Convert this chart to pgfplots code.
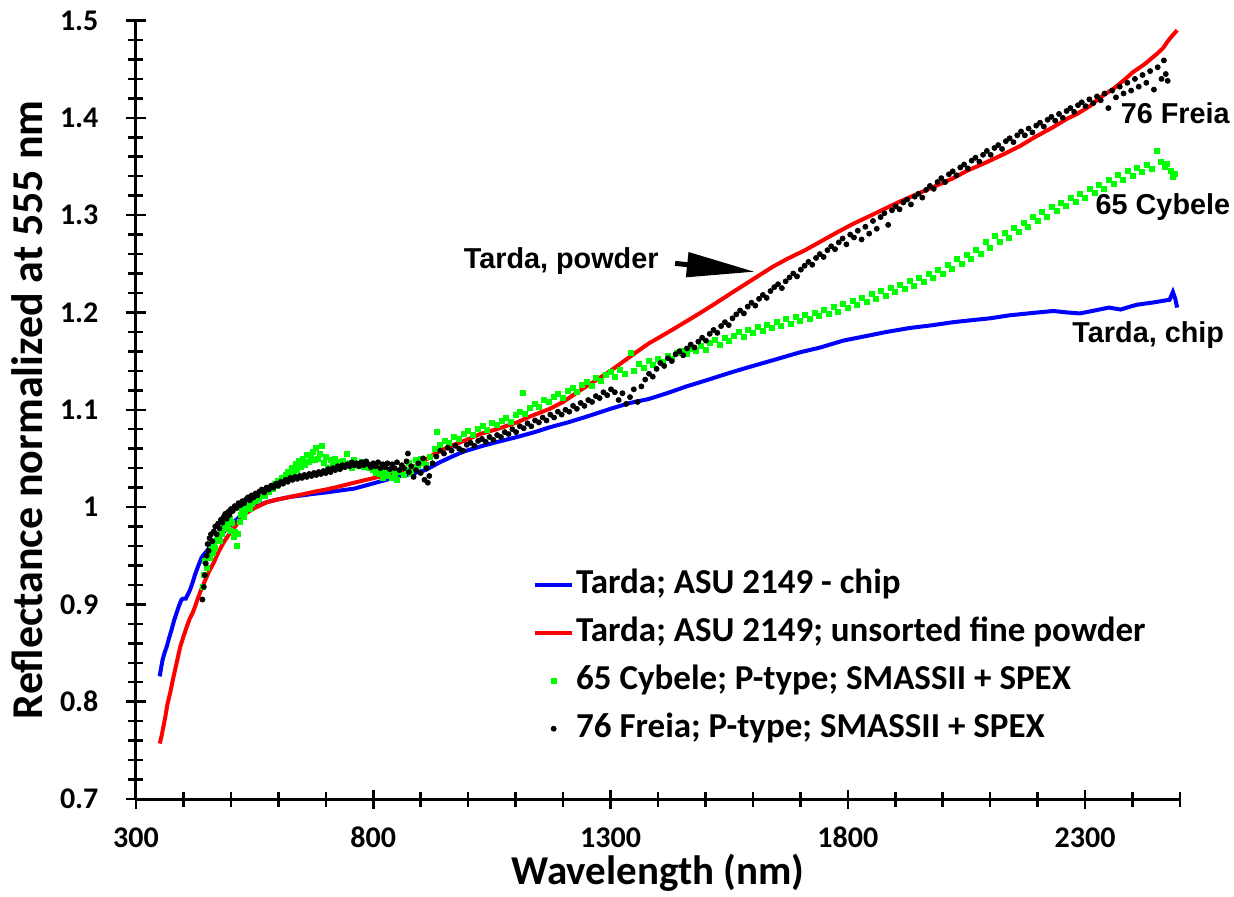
\documentclass[border=0pt]{standalone}
\usepackage{fontspec}
\setmainfont{Carlito}
\newfontfamily\arialf{Liberation Sans}
\usepackage{pgfplots}
\pgfplotsset{compat=1.18}
\usetikzlibrary{arrows.meta}
\definecolor{xblue}{RGB}{0,0,255}
\definecolor{xred}{RGB}{255,0,0}
\definecolor{xgreen}{RGB}{0,255,0}
\begin{document}
\begin{tikzpicture}
\begin{axis}[
  scale only axis, width=522pt, height=389.25pt,
  xmin=300, xmax=2500, ymin=0.7, ymax=1.5,
  axis x line*=bottom, axis y line*=left,
  axis line style={-, line width=1.5pt},
  xtick={300,800,1300,1800,2300},
  minor xtick={400,500,600,700,900,1000,1100,1200,1400,1500,1600,1700,1900,2000,2100,2200,2400,2500},
  ytick={0.7,0.8,0.9,1,1.1,1.2,1.3,1.4,1.5},
  minor ytick={0.72,0.74,0.76,0.78,0.82,0.84,0.86,0.88,0.92,0.94,0.96,0.98,1.02,1.04,1.06,1.08,1.12,1.14,1.16,1.18,1.22,1.24,1.26,1.28,1.32,1.34,1.36,1.38,1.42,1.44,1.46,1.48},
  tick align=center,
  major tick length=9.5pt, minor tick length=7.5pt,
  tick style={black, line width=1.25pt},
  /pgf/number format/assume math mode=true,
  /pgf/number format/1000 sep={},
  tick label style={font=\fontsize{15}{15}\selectfont\bfseries},
  xticklabel style={anchor=base, yshift=-19.5pt},
  yticklabel style={anchor=east, xshift=-10.5pt},
  xlabel={Wavelength (nm)},
  ylabel={Reflectance normalized at 555 nm},
  xlabel style={font=\fontsize{20.5}{24}\selectfont\bfseries, inner sep=0pt, at={(axis description cs:0.5,-0.1104)}, anchor=base},
  ylabel style={font=\fontsize{22}{24}\selectfont\bfseries, at={(axis description cs:-0.104,0.5)}, anchor=center},
  clip=false,
  legend cell align=left,
  legend style={at={(axis description cs:0.3743,0.304)}, anchor=north west, draw=none, fill=none,
    font=\fontsize{17.5}{20}\selectfont\bfseries, row sep=6pt,
    nodes={inner sep=1pt, text height=12.5pt, text depth=3.5pt}},
]
\addplot[xblue, line width=2pt, legend image code/.code={\draw[xblue, line width=2pt] (0pt,0pt) -- (18.5pt,0pt);}] coordinates {
(350,0.826)(353,0.835)(356,0.843)(360,0.850)(365,0.857)(370,0.866)(375,0.874)(380,0.883)(386,0.892)(391,0.899)(396,0.905)(400,0.906)(405,0.906)(410,0.911)(414,0.915)(419,0.922)(424,0.930)(430,0.938)(438,0.948)(446,0.953)(456,0.959)(466,0.965)(477,0.970)(490,0.977)(505,0.984)(518,0.990)(533,0.995)(550,1.000)(575,1.005)(600,1.008)(625,1.0105)(650,1.012)(673,1.0135)(700,1.015)(730,1.017)(760,1.019)(790,1.023)(820,1.027)(850,1.031)(880,1.034)(910,1.038)(940,1.046)(962,1.051)(990,1.057)(1031,1.063)(1070,1.068)(1103,1.072)(1140,1.077)(1172,1.082)(1210,1.087)(1250,1.093)(1300,1.101)(1341,1.107)(1380,1.111)(1419,1.117)(1460,1.124)(1500,1.130)(1558,1.139)(1600,1.145)(1650,1.152)(1699,1.159)(1742,1.164)(1790,1.171)(1841,1.176)(1882,1.180)(1930,1.184)(1980,1.187)(2022,1.190)(2060,1.192)(2100,1.194)(2140,1.197)(2190,1.1995)(2233,1.2015)(2262,1.200)(2289,1.199)(2320,1.202)(2350,1.205)(2375,1.203)(2395,1.206)(2410,1.208)(2440,1.210)(2465,1.212)(2478,1.213)(2485,1.221)(2490,1.214)(2494,1.205)
};
\addlegendentry{Tarda; ASU 2149 - chip}
\addplot[xred, line width=2pt, legend image code/.code={\draw[xred, line width=2pt] (0pt,0pt) -- (18.5pt,0pt);}] coordinates {
(350,0.757)(354,0.765)(358,0.775)(362,0.785)(366,0.797)(372,0.809)(377,0.821)(382,0.832)(388,0.845)(393,0.856)(400,0.867)(407,0.877)(413,0.885)(420,0.892)(426,0.900)(431,0.907)(438,0.916)(446,0.925)(454,0.934)(463,0.942)(473,0.953)(484,0.963)(496,0.972)(509,0.980)(521,0.988)(533,0.994)(550,0.999)(576,1.005)(600,1.008)(625,1.0105)(650,1.013)(673,1.0155)(700,1.018)(723,1.0205)(751,1.024)(785,1.028)(820,1.032)(850,1.036)(880,1.040)(900,1.045)(920,1.052)(941,1.058)(970,1.064)(996,1.069)(1025,1.075)(1060,1.080)(1103,1.087)(1130,1.093)(1172,1.101)(1200,1.108)(1236,1.120)(1278,1.133)(1300,1.140)(1348,1.157)(1380,1.168)(1419,1.179)(1450,1.188)(1489,1.1995)(1520,1.209)(1558,1.221)(1600,1.234)(1642,1.247)(1672,1.255)(1710,1.264)(1742,1.2727)(1780,1.283)(1811,1.291)(1850,1.300)(1882,1.3075)(1910,1.314)(1952,1.323)(1990,1.331)(2022,1.338)(2051,1.3455)(2093,1.3545)(2130,1.363)(2163,1.371)(2190,1.379)(2233,1.3905)(2262,1.399)(2283,1.404)(2310,1.412)(2332,1.421)(2360,1.430)(2385,1.440)(2401,1.447)(2425,1.455)(2452,1.466)(2465,1.472)(2473,1.478)(2483,1.484)(2494,1.490)
};
\addlegendentry{Tarda; ASU 2149; unsorted fine powder}
\addplot[only marks, mark=square*, mark size=1.25pt, xgreen, legend image code/.code={\draw[xgreen, mark=square*, mark size=1.25pt] plot coordinates {(9.25pt,0pt)};}] coordinates {
(440,0.918)(443,0.930)(446,0.945)(449,0.938)(452,0.950)(455,0.948)(458,0.957)(461,0.953)(464,0.962)(467,0.958)(470,0.966)(473,0.970)(476,0.965)(479,0.975)(482,0.972)(485,0.979)(488,0.985)(491,0.978)(494,0.982)(497,0.988)(500,0.976)(503,0.984)(506,0.969)(509,0.975)(512,0.960)(515,0.972)(518,0.985)(521,0.992)(524,0.998)(527,0.990)(530,0.995)(533,1.000)(536,1.004)(540,0.998)(544,1.003)(548,1.007)(552,1.006)(556,1.010)(560,1.008)(564,1.012)(568,1.015)(572,1.011)(576,1.018)(580,1.016)(584,1.021)(588,1.019)(592,1.024)(596,1.022)(600,1.027)(604,1.025)(608,1.030)(612,1.028)(616,1.033)(620,1.036)(624,1.031)(628,1.040)(632,1.035)(636,1.044)(640,1.038)(644,1.047)(648,1.041)(652,1.050)(656,1.043)(660,1.054)(664,1.046)(668,1.052)(672,1.057)(676,1.048)(680,1.061)(684,1.050)(688,1.055)(692,1.063)(696,1.045)(700,1.052)(705,1.040)(710,1.048)(715,1.044)(720,1.050)(725,1.046)(730,1.041)(735,1.047)(740,1.043)(745,1.055)(750,1.045)(755,1.040)(760,1.048)(765,1.044)(770,1.042)(775,1.046)(780,1.041)(785,1.045)(790,1.040)(795,1.043)(800,1.038)(805,1.035)(810,1.040)(815,1.034)(820,1.030)(825,1.036)(830,1.032)(835,1.038)(840,1.030)(845,1.034)(850,1.028)(855,1.036)(860,1.040)(865,1.033)(870,1.038)(875,1.045)(880,1.035)(885,1.040)(890,1.048)(895,1.042)(900,1.050)(905,1.045)(910,1.043)
(920,1.052)(930,1.060)(934,1.077)(940,1.064)(950,1.068)(960,1.066)(970,1.072)(980,1.070)(990,1.075)(1000,1.078)(1010,1.074)(1020,1.080)(1030,1.083)(1040,1.079)(1050,1.086)(1060,1.084)(1070,1.089)(1080,1.092)(1090,1.088)(1100,1.095)(1110,1.098)(1116,1.117)(1120,1.096)(1130,1.102)(1140,1.106)(1150,1.103)(1160,1.110)(1170,1.108)(1180,1.113)(1190,1.116)(1200,1.112)(1210,1.119)(1220,1.122)(1230,1.118)(1240,1.126)(1250,1.129)(1260,1.125)(1270,1.133)(1280,1.130)(1290,1.136)(1300,1.139)(1310,1.134)(1320,1.141)(1330,1.137)(1342,1.158)(1350,1.140)(1360,1.147)(1370,1.143)(1380,1.150)(1390,1.146)(1400,1.152)(1410,1.149)(1420,1.155)(1430,1.152)(1440,1.158)(1450,1.161)(1460,1.157)(1470,1.163)(1480,1.160)(1490,1.166)(1500,1.162)(1510,1.169)(1520,1.172)(1530,1.167)(1540,1.174)(1550,1.171)(1560,1.176)(1570,1.180)(1580,1.175)(1590,1.182)(1600,1.179)(1610,1.185)(1620,1.181)(1630,1.187)(1640,1.184)(1650,1.190)(1660,1.186)(1670,1.193)(1680,1.188)(1690,1.195)(1700,1.191)(1710,1.197)(1720,1.193)(1730,1.200)(1740,1.196)(1750,1.203)(1760,1.199)(1770,1.206)(1780,1.201)(1790,1.209)(1800,1.205)(1810,1.212)(1820,1.208)(1830,1.215)(1840,1.211)(1850,1.219)(1860,1.214)(1870,1.222)(1880,1.217)(1890,1.225)(1900,1.221)(1910,1.228)(1920,1.224)(1930,1.232)(1940,1.227)(1950,1.236)(1960,1.231)(1970,1.240)(1980,1.235)(1990,1.244)(2000,1.240)(2010,1.249)(2020,1.245)(2030,1.255)(2040,1.250)(2050,1.259)(2060,1.255)(2070,1.264)(2080,1.260)(2090,1.272)(2100,1.266)(2110,1.279)(2120,1.273)(2130,1.282)(2140,1.277)(2150,1.287)(2160,1.283)(2170,1.292)(2180,1.288)(2190,1.298)(2200,1.294)(2210,1.303)(2220,1.298)(2230,1.308)(2240,1.304)(2250,1.313)(2260,1.309)(2270,1.318)(2280,1.314)(2290,1.322)(2300,1.318)(2310,1.327)(2320,1.323)(2330,1.331)(2340,1.327)(2350,1.336)(2360,1.332)(2370,1.341)(2380,1.336)(2390,1.345)(2400,1.340)(2410,1.349)(2420,1.344)(2430,1.352)(2440,1.348)(2452,1.366)(2460,1.355)(2468,1.350)(2473,1.353)(2480,1.345)(2485,1.339)(2490,1.342)
};
\addlegendentry{65 Cybele; P-type; SMASSII + SPEX}
\addplot[only marks, mark=*, mark size=1.25pt, black, legend image code/.code={\draw[black, mark=*, mark size=1.25pt] plot coordinates {(9.25pt,0pt)};}] coordinates {
(440,0.905)(443,0.918)(445,0.930)(447,0.942)(449,0.950)(451,0.962)(453,0.955)(455,0.968)(458,0.972)(461,0.965)(464,0.975)(467,0.980)(470,0.972)(473,0.983)(476,0.978)(479,0.987)(482,0.984)(485,0.990)(488,0.993)(491,0.988)(494,0.995)(497,0.992)(500,0.998)(504,0.996)(508,1.001)(512,0.999)(516,1.004)(520,1.002)(524,1.006)(528,1.004)(532,1.008)(536,1.010)(540,1.007)(544,1.012)(548,1.010)(552,1.014)(556,1.012)(560,1.016)(565,1.018)(570,1.015)(575,1.020)(580,1.018)(585,1.022)(590,1.020)(595,1.024)(600,1.022)(605,1.026)(610,1.024)(615,1.028)(620,1.026)(625,1.030)(630,1.028)(635,1.031)(640,1.029)(645,1.032)(650,1.030)(655,1.033)(660,1.031)(665,1.034)(670,1.032)(675,1.035)(680,1.033)(685,1.036)(690,1.034)(695,1.037)(700,1.035)(705,1.039)(710,1.036)(715,1.040)(720,1.038)(725,1.042)(730,1.039)(735,1.043)(740,1.041)(745,1.044)(750,1.042)(755,1.046)(760,1.043)(765,1.045)(770,1.042)(775,1.046)(780,1.043)(785,1.047)(790,1.044)(795,1.041)(800,1.045)(805,1.042)(810,1.046)(815,1.040)(820,1.044)(825,1.041)(830,1.045)(835,1.039)(840,1.044)(845,1.040)(850,1.046)(855,1.038)(860,1.043)(865,1.040)(870,1.047)(873,1.055)(875,1.036)(880,1.042)(885,1.031)(890,1.038)(895,1.045)(900,1.035)(905,1.050)(908,1.028)(912,1.040)(915,1.025)(918,1.032)
(925,1.045)(933,1.052)(941,1.058)(949,1.055)(957,1.061)(965,1.058)(973,1.063)(981,1.060)(989,1.058)(997,1.064)(1005,1.066)(1013,1.063)(1021,1.068)(1029,1.070)(1037,1.067)(1045,1.072)(1053,1.069)(1061,1.074)(1069,1.072)(1077,1.077)(1085,1.075)(1093,1.080)(1101,1.077)(1109,1.083)(1117,1.081)(1125,1.086)(1133,1.083)(1141,1.089)(1149,1.087)(1157,1.092)(1165,1.089)(1173,1.095)(1181,1.092)(1189,1.098)(1197,1.095)(1205,1.100)(1213,1.098)(1221,1.104)(1229,1.101)(1237,1.107)(1245,1.104)(1253,1.110)(1261,1.108)(1269,1.114)(1277,1.112)(1285,1.118)(1293,1.115)(1301,1.121)(1309,1.118)(1317,1.110)(1325,1.117)(1333,1.106)(1341,1.113)(1349,1.121)(1357,1.108)(1365,1.124)(1373,1.131)(1381,1.137)(1389,1.134)(1397,1.142)(1405,1.148)(1413,1.145)(1421,1.153)(1429,1.150)(1437,1.157)(1445,1.160)(1453,1.156)(1461,1.163)(1469,1.167)(1477,1.164)(1485,1.170)(1493,1.174)(1501,1.171)(1509,1.178)(1517,1.182)(1525,1.179)(1533,1.186)(1541,1.190)(1549,1.187)(1557,1.194)(1565,1.198)(1573,1.202)(1581,1.199)(1589,1.206)(1597,1.210)(1605,1.207)(1613,1.214)(1621,1.218)(1629,1.215)(1637,1.222)(1645,1.226)(1653,1.229)(1661,1.225)(1669,1.232)(1677,1.236)(1685,1.240)(1693,1.237)(1701,1.244)(1709,1.248)(1717,1.252)(1725,1.249)(1733,1.256)(1741,1.260)(1749,1.257)(1757,1.264)(1765,1.268)(1773,1.265)(1781,1.272)(1789,1.276)(1797,1.270)(1805,1.280)(1813,1.277)(1821,1.284)(1829,1.275)(1837,1.288)(1845,1.281)(1853,1.294)(1861,1.286)(1869,1.298)(1877,1.302)(1885,1.290)(1893,1.305)(1901,1.309)(1909,1.306)(1917,1.313)(1925,1.316)(1933,1.311)(1941,1.319)(1949,1.322)(1957,1.318)(1965,1.326)(1973,1.330)(1981,1.327)(1989,1.334)(1997,1.338)(2005,1.334)(2013,1.342)(2021,1.345)(2029,1.341)(2037,1.349)(2045,1.352)(2053,1.348)(2061,1.356)(2069,1.359)(2077,1.355)(2085,1.362)(2093,1.366)(2101,1.362)(2109,1.369)(2117,1.372)(2125,1.368)(2133,1.376)(2141,1.379)(2149,1.375)(2157,1.382)(2165,1.386)(2173,1.382)(2181,1.389)(2189,1.385)(2197,1.392)(2205,1.395)(2213,1.391)(2221,1.398)(2229,1.401)(2237,1.397)(2245,1.404)(2253,1.400)(2261,1.407)(2269,1.410)(2277,1.406)(2285,1.413)(2293,1.416)(2301,1.412)(2309,1.419)(2317,1.415)(2325,1.422)(2333,1.418)(2341,1.425)(2349,1.410)(2357,1.428)(2365,1.421)(2373,1.432)(2381,1.425)(2389,1.436)(2397,1.428)(2405,1.440)(2413,1.432)(2421,1.444)(2429,1.436)(2437,1.448)(2445,1.429)(2453,1.452)(2461,1.440)(2466,1.459)(2470,1.445)(2474,1.438)
};
\addlegendentry{76 Freia; P-type; SMASSII + SPEX}
\node[font=\arialf\bfseries\fontsize{14.4}{16}\selectfont] at (axis cs:2490,1.4049) {76 Freia};
\node[font=\arialf\bfseries\fontsize{14.4}{16}\selectfont] at (axis cs:2464,1.3083) {65 Cybele};
\node[font=\arialf\bfseries\fontsize{14.4}{16}\selectfont] at (axis cs:2433,1.1768) {Tarda, chip};
\node[font=\arialf\bfseries\fontsize{14.4}{16}\selectfont] at (axis cs:1196,1.2528) {Tarda, powder};
\draw[black, line width=2.5pt, -{Triangle[length=34pt,width=12pt]}] (axis cs:1436,1.2504) -- (axis cs:1604,1.2418);
\end{axis}
\pgfresetboundingbox
\path[use as bounding box] (-68pt,-48.5pt) rectangle (549pt,399.5pt);
\end{tikzpicture}
\end{document}
